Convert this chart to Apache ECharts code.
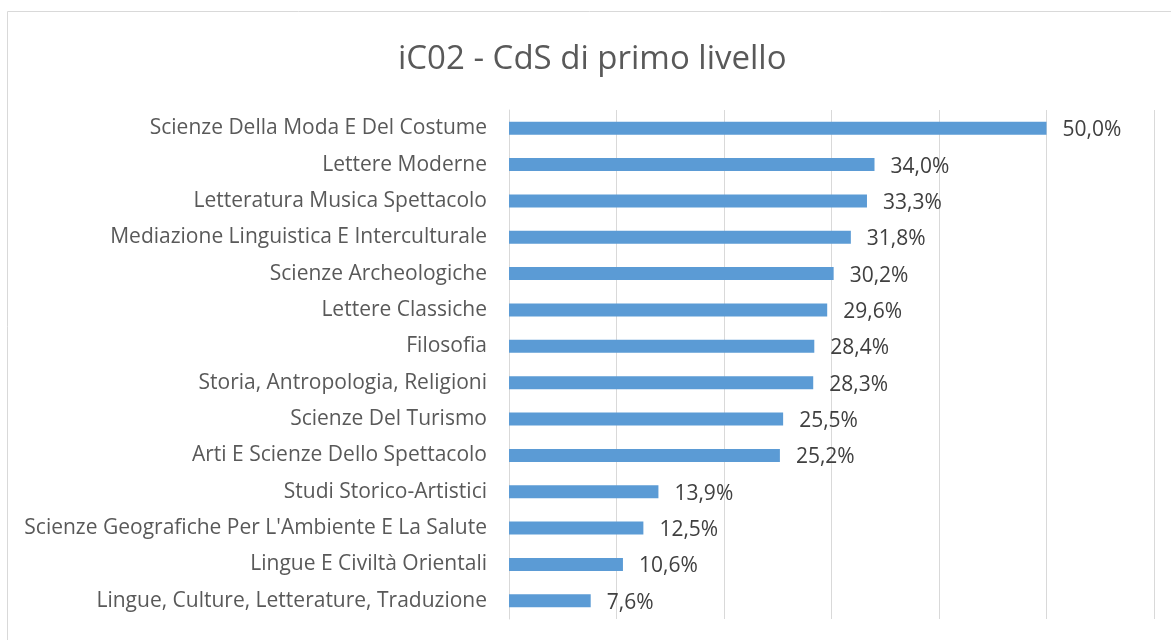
<!DOCTYPE html>
<html><head><meta charset="utf-8">
<script src="https://cdn.jsdelivr.net/npm/echarts@6/dist/echarts.min.js"></script>
<style>html,body{margin:0;padding:0;background:#fff}#c{width:1171px;height:640px}</style>
</head><body><div id="c"></div>
<script>
const categories = [
  "Scienze Della Moda E Del Costume",
  "Lettere Moderne",
  "Letteratura Musica Spettacolo",
  "Mediazione Linguistica E Interculturale",
  "Scienze Archeologiche",
  "Lettere Classiche",
  "Filosofia",
  "Storia, Antropologia, Religioni",
  "Scienze Del Turismo",
  "Arti E Scienze Dello Spettacolo",
  "Studi Storico-Artistici",
  "Scienze Geografiche Per L'Ambiente E La Salute",
  "Lingue E Civiltà Orientali",
  "Lingue, Culture, Letterature, Traduzione"
];
const values = [50.0, 34.0, 33.3, 31.8, 30.2, 29.6, 28.4, 28.3, 25.5, 25.2, 13.9, 12.5, 10.6, 7.6];
const titleText = "iC02 - CdS di primo livello";

const chart = echarts.init(document.getElementById('c'), null, {renderer: 'canvas'});
const font = "'Open Sans', 'Noto Sans', sans-serif";
chart.setOption({
  animation: false,
  textStyle: {fontFamily: font},
  title: {text: titleText, left: 393, top: 38,
    textStyle: {fontSize: 33, fontWeight: 'normal', color: '#595959', fontFamily: font}},
  graphic: [{type: 'rect', shape: {x: 7.5, y: 11.5, width: 1180, height: 650},
    style: {fill: 'none', stroke: '#d9d9d9', lineWidth: 1}, silent: true, z: -1}],
  grid: {left: 509, right: 17, top: 110, bottom: 21, containLabel: false},
  xAxis: {type: 'value', min: 0, max: 60, interval: 10,
    axisLabel: {show: false}, axisLine: {show: false}, axisTick: {show: false},
    splitLine: {show: true, lineStyle: {color: '#d9d9d9', width: 1}}},
  yAxis: {type: 'category', inverse: true, data: categories,
    axisLine: {show: true, lineStyle: {color: '#d9d9d9'}}, axisTick: {show: false},
    axisLabel: {color: '#595959', fontSize: 21, margin: 22, fontFamily: font, padding: [3, 0, 0, 0]}},
  series: [{type: 'bar', data: values, barWidth: 13,
    itemStyle: {color: '#5b9bd5'},
    label: {show: true, position: 'right', distance: 16, color: '#404040', fontSize: 21,
      fontFamily: font, offset: [0, 2],
      formatter: p => p.value.toFixed(1).replace('.', ',') + '%'}}]
});
</script></body></html>
